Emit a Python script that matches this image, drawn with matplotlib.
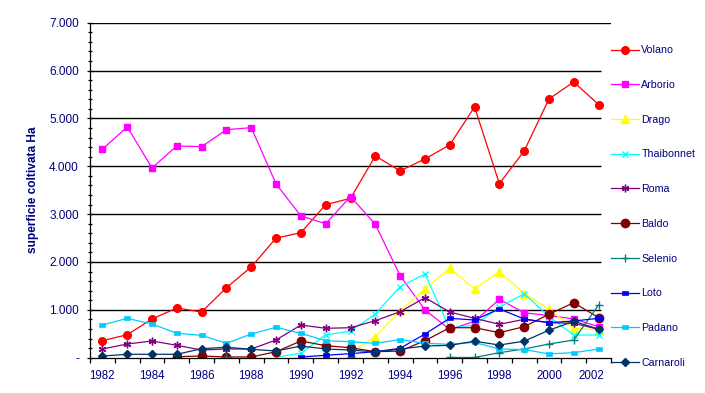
"""
Superficie coltivata per varieta di riso, 1982-2002
"""

import numpy as np
import matplotlib.pyplot as plt
import matplotlib.transforms as mtransforms
from matplotlib.ticker import MultipleLocator, FuncFormatter

nan = np.nan

# ── Data (ha) ────────────────────────────────────────────────
years = list(range(1982, 2003))

volano = [355, 480, 809, 1039, 955, 1463, 1896, 2500, 2612, 3198, 3330,
          4217, 3902, 4153, 4446, 5240, 3637, 4320, 5407, 5762, 5288]
arborio = [4356, 4822, 3965, 4425, 4410, 4765, 4807, 3631, 2962, 2800, 3365,
           2788, 1714, 1000, 590, 760, 1220, 940, 880, 810, 648]
drago = [nan] * 10 + [100, 439, 982, 1436, 1868, 1436, 1797, 1340, 1011, 614, 579]
thaibonnet = [nan] * 7 + [10, 95, 478, 552, 913, 1484, 1749, 614, 683, 1053,
                          1340, 857, 474, 474]
roma = [182, 286, 349, 259, 160, 182, 182, 370, 683, 614, 627,
        773, 961, 1254, 955, 823, 698, 802, 732, 719, 593]
baldo = [nan] * 3 + [21, 35, 15, 15, 125, 349, 251, 209, 125, 140, 355,
                     627, 627, 523, 648, 907, 1150, 836]
selenio = [nan] * 5 + [5, nan, nan, nan, nan, 15, nan, nan, nan,
                       5, 5, 105, 182, 286, 370, 1101]
loto = [nan] * 8 + [15, 50, 85, 125, 196, 495, 823, 788, 1018, 809, 732, 767, 823]
padano = [683, 823, 704, 509, 467, 300, 495, 635, 509, 355, 334,
          300, 380, 300, 280, 320, 182, 170, 80, 105, 182]
carnaroli = [35, 71, 71, 71, 188, 217, 176, 140, 244, 182, 160,
             120, 180, 244, 258, 345, 265, 345, 575, 760, 597]

# small bar-shaped marker used by Excel for Loto / Padano
dash = [(-1, -0.45), (1, -0.45), (1, 0.45), (-1, 0.45), (-1, -0.45)]

series = [
    ('Volano', volano, '#FF0000', 'o', 5.5, 1),
    ('Arborio', arborio, '#FF00FF', 's', 5, 1),
    ('Drago', drago, '#FFFF00', '^', 6, 1),
    ('Thaibonnet', thaibonnet, '#00FFFF', 'x', 4.5, 1),
    ('Roma', roma, '#800080', (6, 2, 0), 5.5, 1),
    ('Baldo', baldo, '#800000', 'o', 6, 1),
    ('Selenio', selenio, '#008080', '+', 6, 1),
    ('Loto', loto, '#0000FF', dash, 5, 0.5),
    ('Padano', padano, '#00CCFF', dash, 5, 0.5),
    ('Carnaroli', carnaroli, '#003366', 'D', 4.5, 1),
]

NAVY = '#000080'
plt.rcParams['font.family'] = ['Liberation Sans', 'DejaVu Sans']
plt.rcParams['font.size'] = 7.7

# ── Plot ─────────────────────────────────────────────────────
fig = plt.figure(figsize=(7.05, 3.93), dpi=100)
W, H = 705, 393
ax = fig.add_axes([90 / W, 1 - 357.7 / H, 521 / W, 335 / H])

for name, vals, col, mk, ms, mew in series:
    ax.plot(years, vals, color=col, lw=0.9, marker=mk, ms=ms,
            mfc=col, mec=col, mew=mew, label=name)

# horizontal gridlines (hidden behind the legend on the right)
ax.hlines(np.arange(1000, 7000, 1000), 1981.5, 2002.08, color='black',
          lw=1.0, zorder=0)
ax.axhline(7000, color='black', lw=1.0, zorder=0)

ax.set_xlim(1981.5, 2002.5)
ax.set_ylim(0, 7000)

ax.yaxis.set_major_locator(MultipleLocator(1000))
ax.yaxis.set_minor_locator(MultipleLocator(200))
ax.yaxis.set_major_formatter(FuncFormatter(
    lambda v, p: '-' if v == 0 else f'{int(v):,}'.replace(',', '.')))
ax.tick_params(axis='y', which='major', direction='inout', length=5,
               width=0.9, pad=5.5, labelcolor=NAVY, labelsize=8.5)
ax.tick_params(axis='y', which='minor', direction='inout', length=3.5,
               width=0.9)

ax.set_xticks(years[::2])
ax.set_xticks(np.arange(1981.5, 2003, 1), minor=True)
ax.tick_params(axis='x', which='major', length=0, pad=8.5, labelcolor=NAVY,
               labelsize=8.3)
ax.tick_params(axis='x', which='minor', direction='out', length=3.8,
               width=0.9)

# Excel pulls the last category label inside the axis
last = ax.get_xticklabels()[-1]
last.set_transform(last.get_transform() + mtransforms.ScaledTranslation(
    -7 / 100, 0, fig.dpi_scale_trans))

for s in ['top', 'right']:
    ax.spines[s].set_visible(False)
for s in ['left', 'bottom']:
    ax.spines[s].set_linewidth(0.9)

fig.text(33 / W, 1 - 190 / H, 'superficie coltivata Ha', rotation=90,
         ha='center', va='center', color=NAVY, fontweight='bold',
         fontsize=8.6)

leg = ax.legend(loc='upper left', bbox_to_anchor=(606 / W, 1 - 40 / H),
                bbox_transform=fig.transFigure, frameon=False, borderpad=0,
                handlelength=2.55, handletextpad=0.25, labelspacing=2.31)
for t in leg.get_texts():
    t.set_color(NAVY)

fig.savefig('out.png', dpi=100)
